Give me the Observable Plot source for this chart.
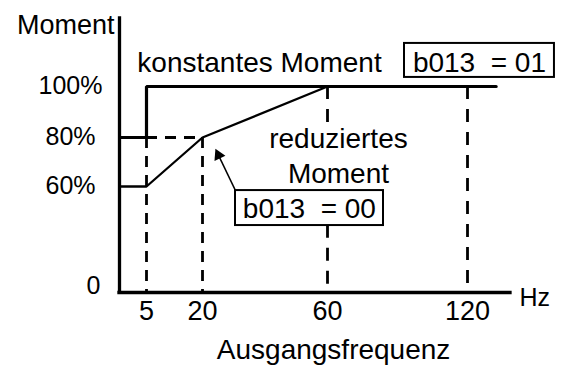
<!DOCTYPE html>
<html><head><meta charset="utf-8">
<script src="https://cdn.jsdelivr.net/npm/d3@7"></script>
<script src="https://cdn.jsdelivr.net/npm/@observablehq/plot@0.6"></script>
<style>
body{margin:0;background:#fff;}
svg text{white-space:pre;font-family:"Liberation Sans", Arial, Helvetica, sans-serif;}
</style></head><body><div id="chart"></div>
<script>
// ---- data ----
const freqTicks = [5, 20, 60, 120];
const freqTickLabels = ["5", "20", "60", "120"];
const momentTicks = [0, 60, 80, 100];
const momentTickLabels = ["0", "60%", "80%", "100%"];
// constant torque (b013 = 01)
const constFreq = [0, 5, 5, 132];
const constMoment = [80, 80, 100, 100];
// reduced torque (b013 = 00)
const reducedFreq = [0, 5, 20, 60];
const reducedMoment = [60, 60, 80, 100];
// dashed guide lines
const guideFreq = [5, 20, 60, 60, 120];
const guideTop = [80, 80, 100, 38, 100];
const guideBottom = [0, 0, 85, 0, 0];
const hGuideFrom = [5], hGuideTo = [20], hGuideMoment = [80];
const yTitle = "Moment", xTitle = "Ausgangsfrequenz", xUnit = "Hz";
const constLabel = "konstantes Moment", constCode = "b013  = 01";
const reducedLabel = "reduziertes\nMoment", reducedCode = "b013  = 00";

// ---- tables ----
const constData = constFreq.map((f, i) => ({f, m: constMoment[i]}));
const reducedData = reducedFreq.map((f, i) => ({f, m: reducedMoment[i]}));
const guides = guideFreq.map((f, i) => ({f, top: guideTop[i], bottom: guideBottom[i]}));
const hGuides = hGuideFrom.map((a, i) => ({a, b: hGuideTo[i], m: hGuideMoment[i]}));
const xTickData = freqTicks.map((v, i) => ({v, label: freqTickLabels[i]}));
const yTickData = momentTicks.map((v, i) => ({v, label: momentTickLabels[i]}));

const font = "Liberation Sans, Arial, Helvetica, sans-serif";
const K = "#000";
const T = {fill: K, fontFamily: font};

const chart = Plot.plot({
  width: 562, height: 365,
  marginLeft: 119, marginRight: 52, marginTop: 18, marginBottom: 73,
  style: {fontFamily: font, background: "#fff", color: K, overflow: "visible"},
  x: {type: "linear", domain: [0, 5, 20, 60, 120, 138], range: [119, 146, 202, 327, 467, 510], axis: null},
  y: {type: "linear", domain: [0, 60, 80, 100, 127], range: [292, 186, 137, 86, 18], axis: null},
  marks: [
    Plot.ruleX(guides.filter(d => d.f <= 20), {x: "f", y1: "top", y2: "bottom", stroke: K, strokeWidth: 2.8, strokeDasharray: "11,8"}),
    Plot.ruleX(guides.filter(d => d.f > 20), {x: "f", y1: "top", y2: "bottom", stroke: K, strokeWidth: 2.8, strokeDasharray: "13,10"}),
    Plot.ruleY(hGuides, {y: "m", x1: "a", x2: "b", stroke: K, strokeWidth: 2.8, strokeDasharray: "11,8"}),
    Plot.line(reducedData, {x: "f", y: "m", stroke: K, strokeWidth: 2.3}),
    Plot.line(constData, {x: "f", y: "m", stroke: K, strokeWidth: 3.2, strokeLinejoin: "miter"}),
    Plot.ruleX([0], {stroke: K, strokeWidth: 3.3, strokeLinecap: "square"}),
    Plot.ruleY([0], {stroke: K, strokeWidth: 3.3, strokeLinecap: "square"}),
    // tick labels
    Plot.text(xTickData, {x: "v", frameAnchor: "bottom", text: "label", lineAnchor: "top", dy: 8, fontSize: 27, ...T}),
    Plot.text(yTickData.filter(d => d.v > 0), {y: "v", frameAnchor: "left", text: "label", textAnchor: "middle", dx: -49, dy: -1, fontSize: 25, ...T}),
    Plot.text(yTickData.filter(d => d.v === 0), {y: "v", frameAnchor: "left", text: "label", textAnchor: "middle", lineAnchor: "bottom", dx: -26, dy: 1, fontSize: 25, ...T}),
    // axis titles
    Plot.text([yTitle], {frameAnchor: "top-left", textAnchor: "end", lineAnchor: "bottom", dx: -5, dy: 15, fontSize: 27, ...T}),
    Plot.text([xTitle], {x: 62.6, frameAnchor: "bottom", lineAnchor: "bottom", dy: 66, fontSize: 28, ...T}),
    Plot.text([xUnit], {frameAnchor: "bottom-right", textAnchor: "start", lineAnchor: "bottom", dx: 9, dy: 13, fontSize: 25, ...T}),
    // annotations
    Plot.text([constLabel], {x: 3.3, y: 105.6, textAnchor: "start", lineAnchor: "bottom", fontSize: 28, ...T}),
    Plot.rect([{x1: 93, x2: 156.4, y1: 103.6, y2: 117.1}], {x1: "x1", x2: "x2", y1: "y1", y2: "y2", fill: "#fff", stroke: K, strokeWidth: 2}),
    Plot.text([constCode], {x: 125, y: 105.6, textAnchor: "middle", lineAnchor: "bottom", fontSize: 28, ...T}),
    Plot.text([reducedLabel], {x: 64.7, y: 61.6, textAnchor: "middle", lineAnchor: "bottom", lineHeight: 1.22, fontSize: 28, ...T}),
    Plot.link([{x1: 30.56, y1: 57.7, x2: 25.1, y2: 72.8}], {x1: "x1", y1: "y1", x2: "x2", y2: "y2", stroke: K, strokeWidth: 1.5}),
    Plot.dot([{x: 25.1, y: 72.8}], {x: "x", y: "y", symbol: "triangle", r: 4.5, fill: K, stroke: "none", rotate: -25.5}),
    Plot.rect([{x1: 30.56, x2: 84, y1: 37.9, y2: 57.7}], {x1: "x1", x2: "x2", y1: "y1", y2: "y2", fill: "#fff", stroke: K, strokeWidth: 2}),
    Plot.text([reducedCode], {x: 54.2, y: 42.4, textAnchor: "middle", lineAnchor: "bottom", fontSize: 28, ...T})
  ]
});
document.getElementById("chart").appendChild(chart);
</script></body></html>
